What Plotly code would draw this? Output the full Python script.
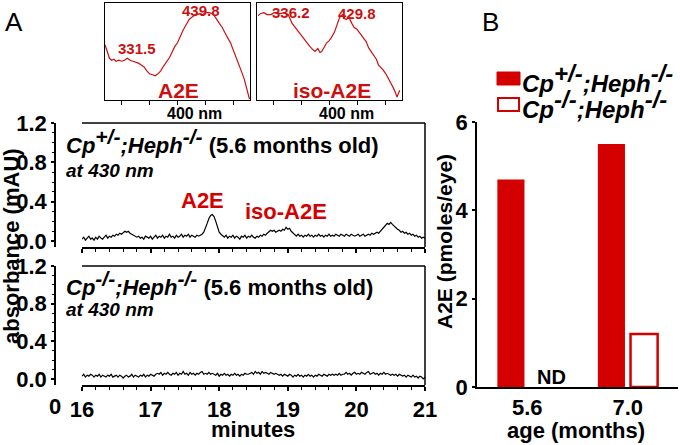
import numpy as np
import plotly.graph_objects as go

W, H = 680, 445
def px(x):
    return x / W
def py(y):
    return 1 - y / H

# ---------------- data ----------------
# inset spectra (normalised absorbance)
a2e_nm = [270, 274, 278, 282, 286, 290, 295, 300, 305, 310, 315, 320, 325, 330, 335, 340,
          345, 350, 355, 360, 365, 370, 375, 380, 386, 390, 395, 400, 404, 410, 415, 421,
          425, 430, 435, 440, 445, 450, 457, 462, 466, 470, 475, 480, 485, 490, 495, 500,
          505, 510, 515, 520, 525, 529]
a2e_abs = [0.57, 0.49, 0.43, 0.41, 0.42, 0.40, 0.41, 0.40, 0.41, 0.43, 0.41, 0.40, 0.39, 0.38,
           0.36, 0.34, 0.30, 0.27, 0.26, 0.25, 0.27, 0.30, 0.35, 0.39, 0.44, 0.49, 0.55, 0.59,
           0.65, 0.72, 0.77, 0.83, 0.85, 0.87, 0.88, 0.89, 0.88, 0.90, 0.90, 0.89, 0.87, 0.83,
           0.79, 0.75, 0.69, 0.64, 0.59, 0.52, 0.44, 0.37, 0.29, 0.21, 0.10, 0.01]
iso_nm = [272, 276, 282, 288, 295, 301, 307, 312, 318, 326, 333, 342, 348, 353, 359, 365, 370,
          374, 379, 383, 386, 391, 395, 399, 403, 409, 414, 418, 423, 427, 430, 435, 440, 444,
          449, 453, 457, 461, 466, 470, 475, 479, 484, 488, 492, 496, 501, 505, 510, 514, 518,
          521, 526]
iso_abs = [0.87, 0.89, 0.90, 0.88, 0.88, 0.90, 0.90, 0.89, 0.90, 0.88, 0.79, 0.72, 0.68, 0.64,
           0.60, 0.55, 0.52, 0.50, 0.53, 0.49, 0.50, 0.55, 0.59, 0.61, 0.64, 0.70, 0.78, 0.85,
           0.88, 0.84, 0.83, 0.85, 0.79, 0.75, 0.73, 0.70, 0.68, 0.65, 0.60, 0.54, 0.50, 0.46,
           0.42, 0.36, 0.34, 0.31, 0.27, 0.23, 0.18, 0.13, 0.08, 0.03, 0.10]
spectrum_ticks = [300, 350, 400, 450, 500]

# chromatograms at 430 nm (mAU), 16-21 min
het_trace = [
    0.02, 0.04, 0.01, 0.03, 0.05, 0.02, 0.03, 0.01, 0.04, 0.02, 0.05, 0.03, 0.02, 0.04, 0.06,
    0.03, 0.05, 0.04, 0.06, 0.05, 0.07,
    0.06, 0.08, 0.07, 0.09, 0.10, 0.09, 0.10, 0.08, 0.07, 0.06, 0.05, 0.04,
    0.05, 0.03, 0.04, 0.02, 0.05, 0.04, 0.03, 0.05, 0.02, 0.04, 0.06, 0.03, 0.05, 0.04, 0.06,
    0.03, 0.05, 0.04, 0.07, 0.04, 0.05, 0.03, 0.06, 0.04, 0.05, 0.07, 0.04, 0.06, 0.05, 0.07,
    0.04, 0.06, 0.05, 0.04, 0.06, 0.05,
    0.06, 0.07, 0.09, 0.13, 0.18, 0.23, 0.26, 0.27, 0.25, 0.20, 0.14, 0.09, 0.07, 0.05,
    0.04, 0.06, 0.03, 0.05, 0.04, 0.06, 0.03, 0.05, 0.04, 0.02, 0.05, 0.04, 0.06, 0.03, 0.05,
    0.04, 0.06, 0.04, 0.03, 0.05, 0.04, 0.06, 0.05, 0.07, 0.06,
    0.08, 0.10, 0.11, 0.10, 0.11, 0.09, 0.10, 0.11, 0.10, 0.12, 0.11, 0.14, 0.12, 0.13, 0.10,
    0.08, 0.07,
    0.05, 0.07, 0.05, 0.06, 0.04, 0.06, 0.05, 0.07, 0.05, 0.06, 0.04, 0.06, 0.05, 0.07, 0.05,
    0.06, 0.04, 0.06, 0.05, 0.07, 0.05, 0.06, 0.05, 0.07, 0.06, 0.05, 0.07, 0.06, 0.05, 0.07,
    0.06, 0.05, 0.07, 0.06, 0.05, 0.06, 0.07, 0.05, 0.06, 0.07, 0.05, 0.06, 0.07, 0.06, 0.08,
    0.07, 0.08, 0.09, 0.08, 0.10,
    0.12, 0.14, 0.16, 0.18, 0.17, 0.19, 0.17, 0.15, 0.13, 0.12, 0.11, 0.09, 0.10, 0.08,
    0.09, 0.07, 0.08, 0.06, 0.07, 0.05, 0.06, 0.04, 0.05, 0.03, 0.04, 0.03,
]
ko_trace = [
    0.03, 0.05, 0.02, 0.04, 0.03, 0.05, 0.04, 0.02, 0.04, 0.03, 0.05, 0.02, 0.04, 0.03, 0.02,
    0.04, 0.03, 0.05, 0.02, 0.03, 0.04,
    0.02, 0.04, 0.03, 0.01, 0.03, 0.04, 0.02, 0.03, 0.05, 0.02, 0.04, 0.03, 0.02, 0.04, 0.03,
    0.05, 0.02, 0.04, 0.03, 0.05, 0.04, 0.03, 0.05, 0.06,
    0.05, 0.07, 0.04, 0.06, 0.05, 0.07, 0.05, 0.04, 0.06, 0.05, 0.07, 0.04, 0.06, 0.05, 0.08,
    0.05, 0.06, 0.04, 0.07, 0.05, 0.06, 0.04, 0.06, 0.05, 0.07, 0.08, 0.05, 0.06, 0.05, 0.07,
    0.05, 0.06,
    0.05, 0.04, 0.06, 0.03, 0.05, 0.04, 0.06, 0.04, 0.05, 0.03, 0.05, 0.04, 0.06, 0.04, 0.05,
    0.03, 0.05, 0.04, 0.06, 0.05,
    0.05, 0.06, 0.07, 0.05, 0.08, 0.06, 0.07, 0.05, 0.08, 0.06, 0.07, 0.06, 0.05, 0.07, 0.06,
    0.05, 0.06, 0.05,
    0.04, 0.05, 0.03, 0.05, 0.04, 0.03, 0.05, 0.04, 0.02, 0.04, 0.03, 0.05, 0.03, 0.04, 0.02,
    0.04, 0.03, 0.05, 0.03, 0.04, 0.02, 0.04, 0.03, 0.05, 0.04, 0.03, 0.05, 0.04, 0.03, 0.05,
    0.04, 0.05, 0.04, 0.05, 0.04, 0.06, 0.04, 0.05,
    0.05, 0.07, 0.05, 0.06, 0.04, 0.06, 0.07, 0.05, 0.06, 0.05, 0.07, 0.06, 0.05, 0.07, 0.08,
    0.05, 0.06, 0.07, 0.05, 0.06, 0.04, 0.06, 0.05, 0.07, 0.05, 0.06, 0.05, 0.04,
    0.05, 0.04, 0.05, 0.03, 0.05, 0.04, 0.03, 0.04, 0.02, 0.04, 0.03, 0.02, 0.04, 0.02, 0.03,
    0.01, 0.03, 0.02, 0.00, 0.02,
]
abs_ticks = [0.0, 0.4, 0.8, 1.2]
minute_ticks = [16, 17, 18, 19, 20, 21]

# panel B
ages = ["5.6", "7.0"]
het_a2e = [4.7, 5.5]      # Cp+/-;Heph-/-
ko_a2e = [None, 1.2]      # Cp-/-;Heph-/-  (ND at 5.6)
b_ticks = [0, 2, 4, 6]

# ---------------- style ----------------
RED = "#d40000"
SPEC_RED = "#cc1010"
FONT = "Liberation Sans, Arial, sans-serif"
TICKFONT = dict(family=FONT, size=22, color="black", weight=700)

fig = go.Figure()
fig.add_trace(go.Scatter(x=np.linspace(16, 21, len(het_trace)), y=het_trace, mode="lines",
                         line=dict(color="black", width=1.2), xaxis="x", yaxis="y"))
fig.add_trace(go.Scatter(x=np.linspace(16, 21, len(ko_trace)), y=ko_trace, mode="lines",
                         line=dict(color="black", width=1.2), xaxis="x2", yaxis="y2"))
fig.add_trace(go.Scatter(x=a2e_nm, y=a2e_abs, mode="lines",
                         line=dict(color=SPEC_RED, width=1.2), xaxis="x3", yaxis="y3"))
fig.add_trace(go.Scatter(x=iso_nm, y=iso_abs, mode="lines",
                         line=dict(color=SPEC_RED, width=1.2), xaxis="x4", yaxis="y4"))
fig.add_trace(go.Bar(x=ages, y=het_a2e, marker=dict(color=RED, line=dict(width=0)),
                     xaxis="x5", yaxis="y5"))
fig.add_trace(go.Bar(x=ages, y=ko_a2e, marker=dict(color="white", line=dict(color=RED, width=2.5)),
                     xaxis="x5", yaxis="y5"))

line_style = dict(showline=True, linewidth=1.5, linecolor="black", showgrid=False, zeroline=False)

def chrom_x(anchor, labels):
    return dict(domain=[px(82), px(425)], range=[16, 21], anchor=anchor, tickvals=minute_ticks,
                ticks="outside", ticklen=4, tickwidth=1.5, tickcolor="black",
                minor=dict(dtick=0.2, tick0=16, ticks="outside", ticklen=3, tickwidth=1, tickcolor="black"),
                showticklabels=labels, tickfont=TICKFONT, **line_style)

def chrom_y(top, bottom, lo):
    return dict(domain=[py(bottom), py(top)], range=[lo, 1.2], anchor="free", position=px(55),
                tickvals=abs_ticks, ticktext=[f"{v:.1f}" for v in abs_ticks],
                ticks="outside", ticklen=3, tickwidth=1.5, tickcolor="black",
                minor=dict(dtick=0.1, tick0=0, ticks="outside", ticklen=2, tickwidth=1, tickcolor="black"),
                tickfont=TICKFONT, **line_style)

def inset_x(x0, x1, anchor):
    return dict(domain=[px(x0), px(x1)], range=[270, 530], anchor=anchor, tickvals=spectrum_ticks,
                ticks="outside", ticklen=4, tickwidth=1, tickcolor="black", showticklabels=False,
                mirror=True, showline=True, linewidth=1.2, linecolor="black", showgrid=False, zeroline=False)

def inset_y(anchor):
    return dict(domain=[py(100), py(3)], range=[0, 1], anchor=anchor, showticklabels=False,
                ticks="", mirror=True, showline=True, linewidth=1.2, linecolor="black",
                showgrid=False, zeroline=False)

TOP_BOX = (123, 247)
BOT_BOX = (266, 385)

fig.update_layout(
    width=W, height=H, margin=dict(l=0, r=0, t=0, b=0, autoexpand=False),
    paper_bgcolor="white", plot_bgcolor="white", showlegend=False,
    font=dict(family=FONT, color="black"),
    bargap=0.35, bargroupgap=0.17, barmode="group",
    xaxis=chrom_x("y", False), yaxis=chrom_y(TOP_BOX[0], TOP_BOX[1], -0.06),
    xaxis2=chrom_x("y2", True), yaxis2=chrom_y(BOT_BOX[0], BOT_BOX[1], -0.064),
    xaxis3=inset_x(105, 250, "y3"), yaxis3=inset_y("x3"),
    xaxis4=inset_x(257, 402, "y4"), yaxis4=inset_y("x4"),
    xaxis5=dict(domain=[px(477), px(678)], anchor="y5", type="category", ticks="",
                tickfont=TICKFONT, **line_style),
    yaxis5=dict(domain=[py(387), py(122)], range=[0, 6], anchor="x5", tickvals=b_ticks,
                ticks="outside", ticklen=3, tickwidth=1.5, tickcolor="black",
                tickfont=TICKFONT, **line_style),
)

# box lines (top + right) of chromatogram panels
for top, bot in [TOP_BOX, BOT_BOX]:
    fig.add_shape(type="line", xref="paper", yref="paper", x0=px(82), x1=px(425), y0=py(top), y1=py(top),
                  line=dict(color="black", width=1.5))
    fig.add_shape(type="line", xref="paper", yref="paper", x0=px(425), x1=px(425), y0=py(top), y1=py(bot),
                  line=dict(color="black", width=1.5))

def ann(text, x, y, size, color="black", bold=True, italic=False, xanchor="center", yanchor="middle", angle=0):
    t = text
    if italic:
        t = f"<i>{t}</i>"
    if bold:
        t = f"<b>{t}</b>"
    fig.add_annotation(text=t, x=px(x), y=py(y), xref="paper", yref="paper", showarrow=False,
                       xanchor=xanchor, yanchor=yanchor, textangle=angle,
                       font=dict(family=FONT, size=size, color=color))

def genotype(cp, size):
    sup = lambda s: f'<sup><span style="font-size:{size}px">{s}</span></sup>'
    return f"<i>Cp{sup(cp)};Heph{sup('-/-')}</i>"

# panel letters
ann("A", 14, 22, 26, bold=False)
ann("B", 490, 22, 26, bold=False)

# inset labels
ann("439.8", 201, 10, 15, SPEC_RED)
ann("331.5", 137, 49, 15, SPEC_RED)
ann("A2E", 178, 90, 21, SPEC_RED)
ann("336.2", 291, 12, 15, SPEC_RED)
ann("429.8", 357, 14, 15, SPEC_RED)
ann("iso-A2E", 332, 90, 21, SPEC_RED)
ann("400 nm", 165, 114, 16, xanchor="left")
ann("400 nm", 317, 114, 16, xanchor="left")

# chromatogram panel texts
ann(genotype("+/-", 21) + " (5.6 months old)", 64, 141, 22, xanchor="left")
ann("at 430 nm", 64, 170, 19, italic=True, xanchor="left")
ann("A2E", 202, 200, 22, RED)
ann("iso-A2E", 286, 211, 22, RED)
ann(genotype("-/-", 21) + " (5.6 months old)", 64, 283, 22, xanchor="left")
ann("at 430 nm", 64, 309, 19, italic=True, xanchor="left")
ann("0", 55, 406, 22)
ann("minutes", 253, 429, 22)
ann("absorbance (mAU)", 11, 246, 22, angle=-90)

# panel B texts
ann("A2E (pmoles/eye)", 445, 242, 21, angle=-90)
ann("age (months)", 576, 430, 22)
ann("ND", 551, 377, 20)

# legend
fig.add_shape(type="rect", xref="paper", yref="paper", x0=px(497), x1=px(520), y0=py(85), y1=py(72),
              fillcolor=RED, line=dict(color=RED, width=1))
fig.add_shape(type="rect", xref="paper", yref="paper", x0=px(498), x1=px(519), y0=py(111), y1=py(98),
              fillcolor="white", line=dict(color=RED, width=2))
ann(genotype("+/-", 24), 520, 78, 24, xanchor="left")
ann(genotype("-/-", 24), 520, 104, 24, xanchor="left")

fig.write_html("out.html", config={"displayModeBar": False},
               post_script="document.body.style.margin='0';document.body.style.padding='0';")
